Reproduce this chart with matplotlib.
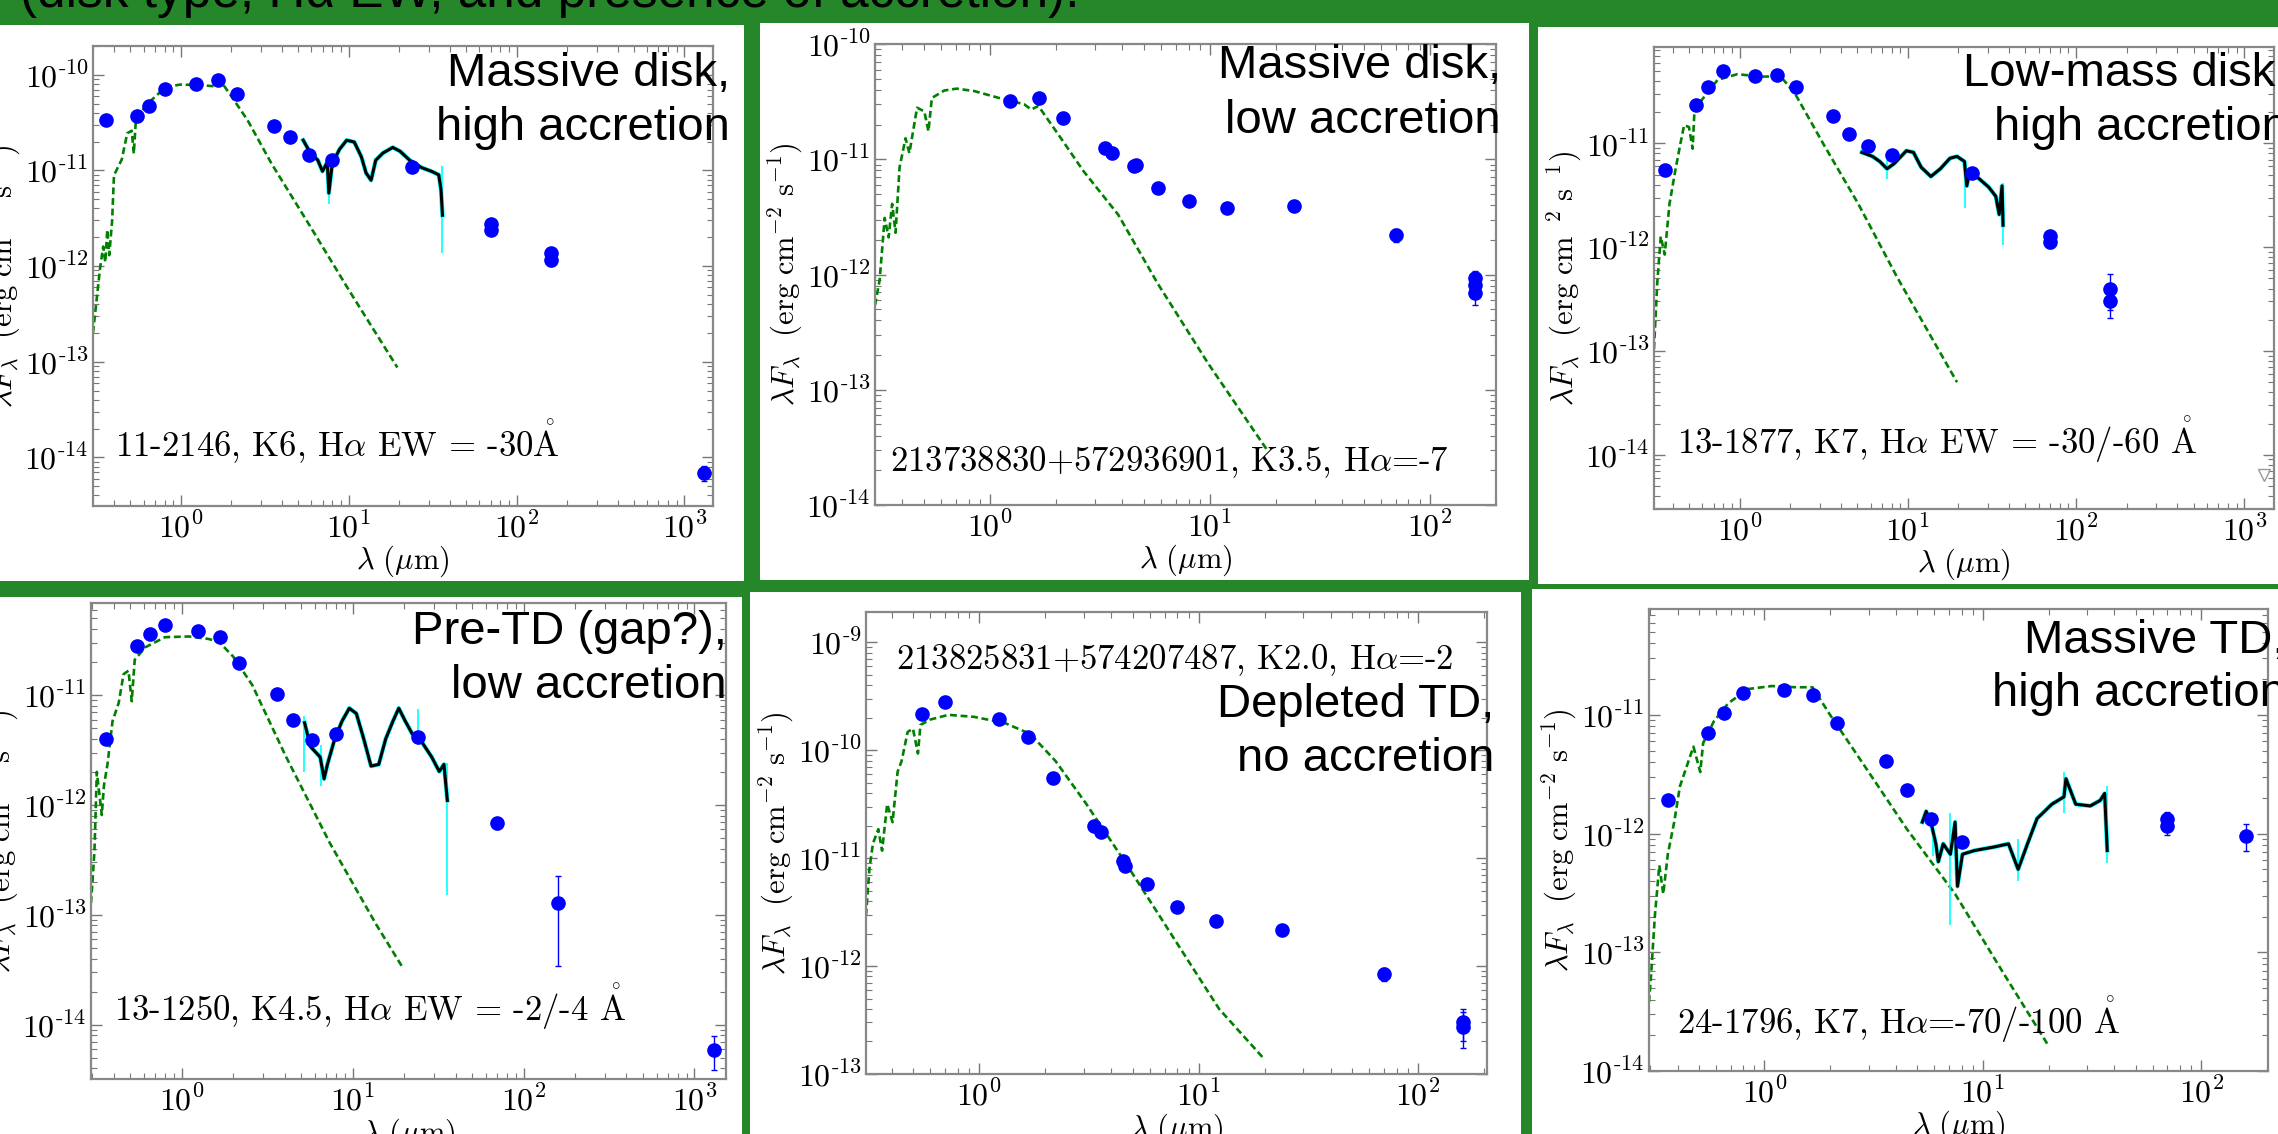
import matplotlib
matplotlib.use("Agg")
import matplotlib.pyplot as plt
import matplotlib.ticker as mticker
from matplotlib.patches import Rectangle
import numpy as np

plt.rcParams['mathtext.fontset'] = 'cm'

W, H = 2278, 1134
GREEN = '#26862a'
SERIF = ['cmr10', 'DejaVu Serif']
SANS = ['Liberation Sans', 'DejaVu Sans']

# ---------------- panel 1 : 11-2146 ----------------
p1_wl = [0.36, 0.55, 0.65, 0.80, 1.235, 1.662, 2.159, 3.6, 4.5, 5.8, 8.0, 24.0, 70.0, 70.0, 160.0, 160.0, 1300.0]
p1_flux = [3.4e-11, 3.7e-11, 4.75e-11, 7.1e-11, 8.0e-11, 8.85e-11, 6.3e-11, 2.9e-11, 2.24e-11, 1.46e-11,
           1.3e-11, 1.08e-11, 2.75e-12, 2.4e-12, 1.38e-12, 1.16e-12, 6.9e-15]
p1_err = [0, 0, 0, 0, 0, 0, 0, 0, 0, 0, 0, 0, 0.2e-12, 0.2e-12, 0.15e-12, 0.15e-12, 1.3e-15]
p1_mod_wl = [0.30, 0.33, 0.345, 0.355, 0.365, 0.375, 0.39, 0.40, 0.445, 0.48, 0.51, 0.525, 0.54, 0.62, 0.81,
             0.99, 1.29, 1.57, 1.73, 2.05, 2.5, 3.48, 5.9, 10.1, 19.5]
p1_mod_flux = [2.0e-13, 9.3e-13, 1.6e-12, 1.1e-12, 2.4e-12, 1.3e-12, 3.0e-12, 8.9e-12, 1.3e-11, 2.45e-11,
               2.6e-11, 1.5e-11, 3.35e-11, 4.8e-11, 7.4e-11, 7.9e-11, 7.8e-11, 7.6e-11, 8.6e-11, 5.6e-11,
               3.35e-11, 1.17e-11, 2.6e-12, 5.5e-13, 8.7e-14]
p1_irs_wl = [5.36, 5.92, 6.55, 6.98, 7.46, 7.62, 7.98, 8.81, 9.73, 10.8, 11.9, 12.7, 13.6, 14.5, 16.0, 18.3,
             20.2, 23.1, 27.2, 31.1, 34.4, 35.5, 36.2]
p1_irs_flux = [2.07e-11, 1.52e-11, 1.28e-11, 9.8e-12, 1.22e-11, 5.8e-12, 1.17e-11, 1.66e-11, 2.07e-11,
               1.98e-11, 1.39e-11, 9.4e-12, 7.9e-12, 1.28e-11, 1.52e-11, 1.74e-11, 1.59e-11, 1.28e-11,
               1.07e-11, 9.8e-12, 9.0e-12, 6.3e-12, 3.4e-12]
p1_spk_wl = [7.6, 36.0]
p1_spk_lo = [4.5e-12, 1.37e-12]
p1_spk_hi = [1.3e-11, 1.1e-11]

# ---------------- panel 2 : 213738830+572936901 ----------------
p2_wl = [1.235, 1.662, 2.159, 3.35, 3.6, 4.5, 4.6, 5.8, 8.0, 12.0, 24.0, 70.0, 160.0, 160.0, 160.0]
p2_flux = [3.2e-11, 3.4e-11, 2.3e-11, 1.26e-11, 1.13e-11, 8.7e-12, 8.9e-12, 5.6e-12, 4.36e-12, 3.8e-12,
           3.9e-12, 2.2e-12, 9.3e-13, 8.1e-13, 6.9e-13]
p2_err = [0, 0, 0, 0, 0, 0, 0, 0, 0, 0, 0, 0.3e-12, 1.5e-13, 1.5e-13, 1.5e-13]
p2_mod_wl = [0.30, 0.315, 0.332, 0.346, 0.359, 0.372, 0.388, 0.413, 0.43, 0.466, 0.503, 0.525, 0.544, 0.62,
             0.706, 0.85, 1.10, 1.43, 1.54, 1.66, 2.05, 2.66, 3.83, 5.8, 9.8, 18.2]
p2_mod_flux = [5.4e-13, 9.0e-13, 3.1e-12, 2.1e-12, 4.1e-12, 2.3e-12, 8.5e-12, 1.52e-11, 1.13e-11, 2.8e-11,
               2.6e-11, 1.75e-11, 3.4e-11, 3.95e-11, 4.1e-11, 3.9e-11, 3.4e-11, 3.0e-11, 2.7e-11, 2.9e-11,
               1.63e-11, 7.9e-12, 3.3e-12, 8.3e-13, 1.7e-13, 3.0e-14]

# ---------------- panel 3 : 13-1877 ----------------
p3_wl = [0.36, 0.55, 0.65, 0.80, 1.235, 1.662, 2.159, 3.6, 4.5, 5.8, 8.0, 24.0, 70.0, 70.0, 160.0, 160.0]
p3_flux = [5.5e-12, 2.33e-11, 3.47e-11, 5.0e-11, 4.5e-11, 4.6e-11, 3.5e-11, 1.83e-11, 1.24e-11, 9.4e-12,
           7.7e-12, 5.2e-12, 1.27e-12, 1.13e-12, 4.0e-13, 3.0e-13]
p3_err = [0, 0, 0, 0, 0, 0, 0, 0, 0, 0, 0, 0, 0.15e-12, 0.15e-12, 1.5e-13, 0.9e-13]
p3_lim_wl = [1300.0]
p3_lim_flux = [6.4e-15]
p3_mod_wl = [0.31, 0.324, 0.34, 0.359, 0.383, 0.415, 0.443, 0.468, 0.50, 0.526, 0.54, 0.61, 0.74, 0.97, 1.35,
             1.75, 2.14, 3.18, 5.06, 8.6, 19.6]
p3_mod_flux = [1.05e-13, 4.5e-13, 1.27e-12, 8.5e-13, 2.6e-12, 5.5e-12, 9.6e-12, 1.5e-11, 1.44e-11, 8.9e-12,
               2.15e-11, 2.75e-11, 4.1e-11, 4.65e-11, 4.4e-11, 4.45e-11, 3.0e-11, 9.6e-12, 2.64e-12,
               5.2e-13, 5.0e-14]
p3_irs_wl = [5.33, 6.17, 6.81, 7.52, 8.3, 9.8, 10.8, 12.0, 13.7, 15.6, 17.8, 19.6, 21.7, 22.4, 23.2, 26.4,
             30.2, 33.3, 34.9, 36.3, 36.8]
p3_irs_flux = [8.2e-12, 7.5e-12, 6.7e-12, 5.7e-12, 6.4e-12, 8.5e-12, 8.2e-12, 5.9e-12, 4.8e-12, 5.7e-12,
               7.2e-12, 7.5e-12, 6.7e-12, 3.9e-12, 5.2e-12, 4.6e-12, 3.8e-12, 3.1e-12, 2.07e-12, 3.9e-12,
               1.63e-12]
p3_spk_wl = [7.5, 22.0, 36.8]
p3_spk_lo = [4.5e-12, 2.4e-12, 1.04e-12]
p3_spk_hi = [7.0e-12, 6.5e-12, 4.2e-12]

# ---------------- panel 4 : 13-1250 ----------------
p4_wl = [0.36, 0.55, 0.65, 0.80, 1.235, 1.662, 2.159, 3.6, 4.5, 5.8, 8.0, 24.0, 70.0, 160.0, 1300.0]
p4_flux = [4.0e-12, 2.8e-11, 3.64e-11, 4.35e-11, 3.8e-11, 3.4e-11, 1.95e-11, 1.02e-11, 6.0e-12, 3.9e-12,
           4.4e-12, 4.2e-12, 6.8e-13, 1.29e-13, 5.9e-15]
p4_err = [0, 0, 0, 0, 0, 0, 0, 0, 0, 0, 0, 0, 0.8e-13, 0.95e-13, 2.0e-15]
p4_mod_wl = [0.294, 0.308, 0.318, 0.34, 0.35, 0.367, 0.393, 0.427, 0.456, 0.487, 0.509, 0.53, 0.612, 0.796,
             1.10, 1.43, 1.65, 1.99, 2.58, 4.08, 7.35, 13.7, 19.4]
p4_mod_flux = [1.28e-13, 3.8e-13, 2.0e-12, 8.1e-13, 1.5e-12, 2.34e-12, 5.8e-12, 8.5e-12, 1.55e-11, 1.67e-11,
               8.8e-12, 2.1e-11, 2.73e-11, 3.37e-11, 3.42e-11, 3.25e-11, 3.05e-11, 2.26e-11, 1.24e-11,
               2.73e-12, 4.5e-13, 8.2e-14, 3.4e-14]
p4_irs_wl = [5.23, 5.66, 6.04, 6.45, 6.8, 7.11, 7.85, 8.66, 9.55, 10.5, 11.6, 12.8, 14.2, 15.6, 17.2, 18.6,
             20.3, 22.3, 25.5, 29.0, 32.1, 34.2, 35.8]
p4_irs_flux = [5.6e-12, 3.4e-12, 3.05e-12, 2.73e-12, 1.73e-12, 2.34e-12, 4.0e-12, 5.8e-12, 7.6e-12, 6.8e-12,
               4.0e-12, 2.26e-12, 2.34e-12, 4.0e-12, 5.8e-12, 7.6e-12, 5.8e-12, 4.45e-12, 3.7e-12, 2.73e-12,
               2.02e-12, 2.34e-12, 1.1e-12]
p4_spk_wl = [5.2, 6.5, 24.0, 35.8]
p4_spk_lo = [2.0e-12, 1.5e-12, 3.5e-12, 1.5e-13]
p4_spk_hi = [6.5e-12, 3.5e-12, 7.5e-12, 2.4e-12]

# ---------------- panel 5 : 213825831+574207487 ----------------
p5_wl = [0.55, 0.70, 1.235, 1.662, 2.159, 3.35, 3.6, 4.5, 4.6, 5.8, 8.0, 12.0, 24.0, 70.0, 160.0, 160.0]
p5_flux = [2.15e-10, 2.8e-10, 1.95e-10, 1.32e-10, 5.5e-11, 1.96e-11, 1.74e-11, 9.4e-12, 8.4e-12, 5.7e-12,
           3.5e-12, 2.6e-12, 2.15e-12, 8.4e-13, 3.0e-13, 2.75e-13]
p5_err = [0, 0, 0, 0, 0, 0, 0, 0, 0, 0, 0, 0, 0, 1.2e-13, 1.0e-13, 1.0e-13]
p5_mod_wl = [0.305, 0.316, 0.328, 0.347, 0.361, 0.381, 0.403, 0.425, 0.443, 0.472, 0.499, 0.526, 0.54, 0.60,
             0.725, 0.948, 1.31, 1.71, 2.23, 3.08, 4.72, 7.65, 12.4, 20.0]
p5_mod_flux = [2.93e-12, 7.9e-12, 1.36e-11, 1.85e-11, 1.17e-11, 3.16e-11, 2.15e-11, 6.3e-11, 7.9e-11,
               1.47e-10, 1.58e-10, 9.3e-11, 1.71e-10, 1.92e-10, 2.12e-10, 2.03e-10, 1.78e-10, 1.41e-10,
               7.9e-11, 3.16e-11, 8.6e-12, 1.85e-12, 4.0e-13, 1.36e-13]

# ---------------- panel 6 : 24-1796 ----------------
p6_wl = [0.36, 0.55, 0.65, 0.80, 1.235, 1.662, 2.159, 3.6, 4.5, 5.8, 8.0, 70.0, 70.0, 160.0]
p6_flux = [1.93e-12, 7.0e-12, 1.04e-11, 1.53e-11, 1.61e-11, 1.47e-11, 8.5e-12, 4.06e-12, 2.33e-12, 1.32e-12,
           8.5e-13, 1.34e-12, 1.15e-12, 9.6e-13]
p6_err = [0, 0, 0, 0, 0, 0, 0, 0, 0, 0, 0, 0.18e-12, 0.18e-12, 2.5e-13]
p6_mod_wl = [0.296, 0.303, 0.315, 0.33, 0.344, 0.361, 0.386, 0.41, 0.443, 0.473, 0.508, 0.524, 0.586, 0.682,
             0.837, 1.08, 1.39, 1.66, 1.99, 2.70, 4.49, 7.46, 12.4, 20.1]
p6_mod_flux = [3.8e-14, 6.7e-14, 2.04e-13, 5.4e-13, 3.1e-13, 6.7e-13, 1.25e-12, 2.5e-12, 3.8e-12, 5.4e-12,
               3.3e-12, 5.8e-12, 8.8e-12, 1.25e-11, 1.65e-11, 1.75e-11, 1.71e-11, 1.71e-11, 1.01e-11,
               4.4e-12, 1.09e-12, 3.1e-13, 6.7e-14, 1.6e-14]
p6_irs_wl = [5.28, 5.5, 5.78, 6.09, 6.25, 6.58, 7.1, 7.46, 7.65, 8.06, 9.15, 11.2, 13.1, 14.5, 16.0, 17.7,
             20.7, 23.5, 24.0, 26.6, 31.0, 34.4, 36.1, 37.1]
p6_irs_flux = [1.25e-12, 1.54e-12, 1.25e-12, 8.2e-13, 5.8e-13, 8.2e-13, 6.7e-13, 1.25e-12, 3.6e-13, 6.7e-13,
               7.2e-13, 7.7e-13, 8.2e-13, 5.0e-13, 8.2e-13, 1.34e-12, 1.77e-12, 2.04e-12, 2.9e-12, 1.77e-12,
               1.71e-12, 1.9e-12, 2.18e-12, 7.2e-13]
p6_spk_wl = [5.9, 7.1, 14.5, 23.5, 37.0]
p6_spk_lo = [6.5e-13, 1.7e-13, 4.0e-13, 1.5e-12, 5.6e-13]
p6_spk_hi = [1.5e-12, 1.5e-12, 9.0e-13, 3.3e-12, 2.5e-12]

slide_title = '(disk type, H\u03b1 EW, and presence of accretion).'
ylab = r'$\lambda F_\lambda\ \ (\mathrm{erg\ cm^{-2}\ s^{-1}})$'
ylab_broken = r'$\lambda F_\lambda\ \ (\mathrm{erg\ cm^{\ \ 2}\ s^{\ \ 1}})$'
xlab = r'$\lambda\ (\mu\mathrm{m})$'
ANG = r'$\mathring{\mathrm{A}}$'

panels = [
    dict(box=(0, 25, 744, 581), ax=(93, 46, 713, 506), xlim=(0.30, 1480), ylim=(3.1e-15, 2e-10),
         wl=p1_wl, flux=p1_flux, err=p1_err, mwl=p1_mod_wl, mflux=p1_mod_flux,
         iwl=p1_irs_wl, iflux=p1_irs_flux, swl=p1_spk_wl, slo=p1_spk_lo, shi=p1_spk_hi,
         title=['Massive disk,', 'high accretion'], tx=730, ty=(86, 140),
         note=r'11-2146, K6, H$\alpha$ EW = -30' + ANG, nx=115, ny=456, ylabel=ylab),
    dict(box=(760, 23, 1529, 580), ax=(875, 44, 1496, 505), xlim=(0.30, 200), ylim=(1e-14, 1e-10),
         wl=p2_wl, flux=p2_flux, err=p2_err, mwl=p2_mod_wl, mflux=p2_mod_flux,
         title=['Massive disk,', 'low accretion'], tx=1501, ty=(78, 133),
         note=r'213738830+572936901, K3.5, H$\alpha$=-7', nx=890, ny=471, ylabel=ylab),
    dict(box=(1538, 27, 2278, 584), ax=(1654, 47, 2274, 509), xlim=(0.31, 1500), ylim=(3.0e-15, 8.5e-11),
         wl=p3_wl, flux=p3_flux, err=p3_err, mwl=p3_mod_wl, mflux=p3_mod_flux,
         iwl=p3_irs_wl, iflux=p3_irs_flux, swl=p3_spk_wl, slo=p3_spk_lo, shi=p3_spk_hi,
         lwl=p3_lim_wl, lflux=p3_lim_flux,
         title=['Low-mass disk,', 'high accretion'], tx=2288, ty=(86, 140),
         note=r'13-1877, K7, H$\alpha$ EW = -30/-60 ' + ANG, nx=1677, ny=454, ylabel=ylab_broken),
    dict(box=(0, 597, 742, 1134), ax=(91, 603, 726, 1079), xlim=(0.294, 1530), ylim=(3.2e-15, 6.9e-11),
         wl=p4_wl, flux=p4_flux, err=p4_err, mwl=p4_mod_wl, mflux=p4_mod_flux,
         iwl=p4_irs_wl, iflux=p4_irs_flux, swl=p4_spk_wl, slo=p4_spk_lo, shi=p4_spk_hi,
         title=['Pre-TD (gap?),', 'low accretion'], tx=727, ty=(644, 698),
         note=r'13-1250, K4.5, H$\alpha$ EW = -2/-4 ' + ANG, nx=114, ny=1021, ylabel=ylab),
    dict(box=(750, 592, 1521, 1134), ax=(866, 612, 1487, 1074), xlim=(0.305, 206), ylim=(1e-13, 1.9e-9),
         wl=p5_wl, flux=p5_flux, err=p5_err, mwl=p5_mod_wl, mflux=p5_mod_flux,
         title=['Depleted TD,', 'no accretion'], tx=1494, ty=(717, 771),
         note=r'213825831+574207487, K2.0, H$\alpha$=-2', nx=896, ny=669, ylabel=ylab),
    dict(box=(1532, 589, 2278, 1134), ax=(1649, 609, 2268, 1071), xlim=(0.296, 202), ylim=(1e-14, 7.8e-11),
         wl=p6_wl, flux=p6_flux, err=p6_err, mwl=p6_mod_wl, mflux=p6_mod_flux,
         iwl=p6_irs_wl, iflux=p6_irs_flux, swl=p6_spk_wl, slo=p6_spk_lo, shi=p6_spk_hi,
         title=['Massive TD,', 'high accretion'], tx=2286, ty=(653, 706),
         note=r'24-1796, K7, H$\alpha$=-70/-100 ' + ANG, nx=1677, ny=1034, ylabel=ylab),
]


def fx(x):
    return x / W


def fy(y):
    return 1 - y / H


def decade(v, pos):
    e = int(np.round(np.log10(v)))
    if e < 0:
        return r'$10^{\text{-}%d}$' % (-e)
    return r'$10^{%d}$' % e


fig = plt.figure(figsize=(W / 100, H / 100), dpi=100)
fig.patch.set_facecolor(GREEN)

for p in panels:
    x0, y0, x1, y1 = p['box']
    fig.add_artist(Rectangle((fx(x0), fy(y1)), (x1 - x0) / W, (y1 - y0) / H,
                             transform=fig.transFigure, facecolor='white', edgecolor='none', zorder=-5))

    a0, b0, a1, b1 = p['ax']
    ax = fig.add_axes([fx(a0), fy(b1), (a1 - a0) / W, (b1 - b0) / H])
    ax.set_xscale('log')
    ax.set_yscale('log')

    # photosphere model
    ax.plot(p['mwl'], p['mflux'], color='#008000', lw=1.9, ls=(0, (2.6, 1.4)), zorder=2)

    # IRS spectrum with its errors
    if 'iwl' in p:
        ax.vlines(p['swl'], p['slo'], p['shi'], color='cyan', lw=1.2, zorder=3)
        ax.plot(p['iwl'], p['iflux'], color='cyan', lw=3.2, zorder=3)
        ax.plot(p['iwl'], p['iflux'], color='black', lw=2.2, zorder=4)

    # photometry
    ax.errorbar(p['wl'], p['flux'], yerr=p['err'], fmt='o', color='blue', ms=9.5, mec='blue',
                ecolor='blue', elinewidth=1.0, capsize=2, zorder=5)
    if 'lwl' in p:
        ax.plot(p['lwl'], p['lflux'], 'v', mfc='none', mec='#999999', ms=9, mew=1)

    ax.set_xlim(*p['xlim'])
    ax.set_ylim(*p['ylim'])

    for axis in (ax.xaxis, ax.yaxis):
        axis.set_major_locator(mticker.LogLocator(base=10, numticks=30))
        axis.set_minor_locator(mticker.LogLocator(base=10, subs=np.arange(2, 10), numticks=100))
        axis.set_major_formatter(mticker.FuncFormatter(decade))
        axis.set_minor_formatter(mticker.NullFormatter())

    ax.tick_params(which='both', direction='in', top=True, right=True, color='#777777', labelsize=23)
    ax.tick_params(which='major', length=8, width=1.0)
    ax.tick_params(which='minor', length=4, width=0.8)
    ax.tick_params(axis='y', pad=3)
    ax.tick_params(axis='x', pad=5)
    for s in ax.spines.values():
        s.set_color('#888888')
        s.set_linewidth(1.6)

    axw, axh = a1 - a0, b1 - b0
    ax.set_xlabel(xlab, fontsize=22)
    ax.xaxis.set_label_coords(0.5, -38 / axh)
    ax.set_ylabel(p['ylabel'], fontsize=22)
    ax.yaxis.set_label_coords(-70 / axw, 0.5)

    for line, ty in zip(p['title'], p['ty']):
        fig.text(fx(p['tx']), fy(ty), line, ha='right', va='baseline', fontsize=34, family=SANS)

    fig.text(fx(p['nx']), fy(p['ny']), p['note'], ha='left', va='baseline', fontsize=25, family=SERIF)

fig.text(fx(20), fy(7), slide_title, ha='left', va='baseline', fontsize=37, family=SANS)

fig.savefig('out.png', dpi=100, facecolor=fig.get_facecolor())
